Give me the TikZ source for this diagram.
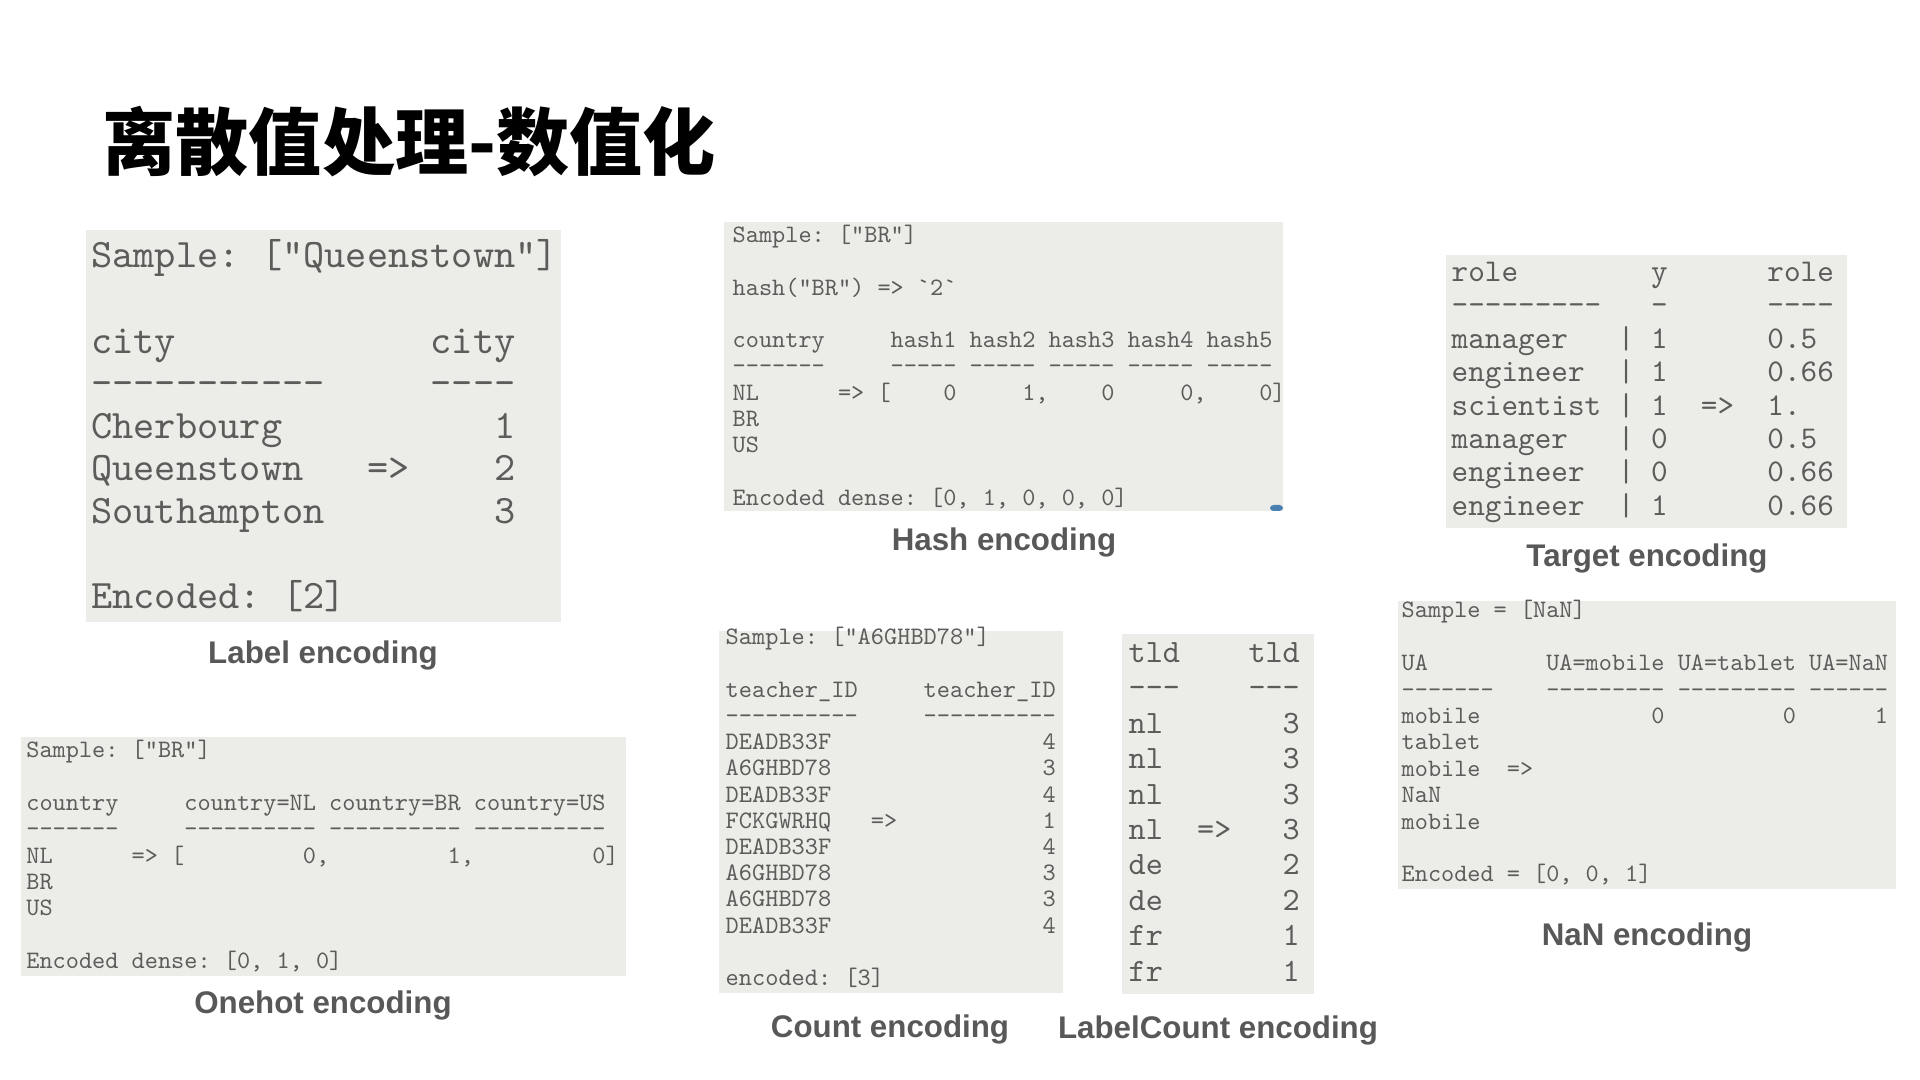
\documentclass[tikz,border=0pt]{standalone}
\usepackage{fontspec}
\newfontfamily\cjkfont{Noto Sans CJK SC}
\newfontfamily\capfont{Liberation Sans}
\newfontfamily\codefont{lmmono10-regular.otf}

\definecolor{panelgray}{RGB}{236,236,233}
\definecolor{codegray}{RGB}{92,92,90}
\definecolor{capgray}{RGB}{88,88,88}
\definecolor{markblue}{RGB}{74,128,176}

% n blank columns of the current monospace font
\newcommand\colgap[1]{\hspace*{#1\fontcharwd\font`0}}

\begin{document}
\begin{tikzpicture}[
  x=0.01cm, y=-0.01cm,
  panel/.style    = {fill=panelgray},
  codeline/.style = {anchor=base west, inner sep=0pt, text=codegray},
  caption/.style  = {anchor=base, inner sep=0pt, text=capgray,
                     font=\capfont\bfseries\fontsize{8.9}{10}\selectfont},
]

%% ── Canvas: 1 unit = 1 px of a 1920 x 1080 slide ─────────────────────────────
\useasboundingbox (0,0) rectangle (1920,1080);
\fill[white] (0,0) rectangle (1920,1080);

%% ── Title ────────────────────────────────────────────────────────────────────
\node[anchor=base west, inner sep=0pt,
      font=\cjkfont\bfseries\fontsize{20.8}{24}\selectfont]
  (title) at (102,170) {离散值处理-数值化};

%% ── Label encoding ───────────────────────────────────────────────────────────
\def\xL{90.6}  \def\yL{268}  \def\dL{42.6}
\fill[panel] (86,230) rectangle (561,622);
\foreach \r/\ln in {0/{Sample:~["Queenstown"]},
                    2/{city\colgap{12}city},
                    3/{-----------\colgap{5}----},
                    4/{Cherbourg\colgap{10}1},
                    5/{Queenstown\colgap{3}=>\colgap{4}2},
                    6/{Southampton\colgap{8}3},
                    8/{Encoded:~[2]}}{
  \node[codeline, font=\codefont\fontsize{11.49}{12}\selectfont]
    (lab-\r) at (\xL, \yL+\r*\dL) {\ln};
}
\node[caption] (lab-cap) at (323,664) {Label encoding};

%% ── Hash encoding ────────────────────────────────────────────────────────────
\def\xH{732}  \def\yH{242.5}  \def\dH{26.3}
\fill[panel] (724,222) rectangle (1283,511);
\fill[markblue, rounded corners=1pt] (1270,505) rectangle (1283,511);
\foreach \r/\ln in {0/{Sample:~["BR"]},
                    2/{hash("BR")~=>~`2`},
                    4/{country\colgap{5}hash1~hash2~hash3~hash4~hash5},
                    5/{-------\colgap{5}-----~-----~-----~-----~-----},
                    6/{NL\colgap{6}=>~[\colgap{4}0\colgap{5}1,\colgap{4}0\colgap{5}0,\colgap{4}0]},
                    7/{BR},
                    8/{US},
                    10/{Encoded~dense:~[0,~1,~0,~0,~0]}}{
  \node[codeline, font=\codefont\fontsize{7.13}{8}\selectfont]
    (hash-\r) at (\xH, \yH+\r*\dH) {\ln};
}
\node[caption] (hash-cap) at (1004,551) {Hash encoding};

%% ── Target encoding ──────────────────────────────────────────────────────────
\def\xT{1451}  \def\yT{281.6}  \def\dT{33.4}
\fill[panel] (1446,255) rectangle (1847,528);
\foreach \r/\ln in {0/{role\colgap{8}y\colgap{6}role},
                    1/{---------\colgap{3}-\colgap{6}----},
                    2/{manager\colgap{3}|~1\colgap{6}0.5},
                    3/{engineer\colgap{2}|~1\colgap{6}0.66},
                    4/{scientist~|~1\colgap{2}=>\colgap{2}1.},
                    5/{manager\colgap{3}|~0\colgap{6}0.5},
                    6/{engineer\colgap{2}|~0\colgap{6}0.66},
                    7/{engineer\colgap{2}|~1\colgap{6}0.66}}{
  \node[codeline, font=\codefont\fontsize{9.0}{10}\selectfont]
    (tgt-\r) at (\xT, \yT+\r*\dT) {\ln};
}
\node[caption] (tgt-cap) at (1647,567) {Target encoding};

%% ── Onehot encoding ──────────────────────────────────────────────────────────
\def\xO{25.7}  \def\yO{758}  \def\dO{26.3}
\fill[panel] (21,737) rectangle (626,976);
\foreach \r/\ln in {0/{Sample:~["BR"]},
                    2/{country\colgap{5}country=NL~country=BR~country=US},
                    3/{-------\colgap{5}----------~----------~----------},
                    4/{NL\colgap{6}=>~[\colgap{9}0,\colgap{9}1,\colgap{9}0]},
                    5/{BR},
                    6/{US},
                    8/{Encoded~dense:~[0,~1,~0]}}{
  \node[codeline, font=\codefont\fontsize{7.13}{8}\selectfont]
    (hot-\r) at (\xO, \yO+\r*\dO) {\ln};
}
\node[caption] (hot-cap) at (323,1014) {Onehot encoding};

%% ── Count encoding ───────────────────────────────────────────────────────────
\def\xC{725}  \def\yC{645}  \def\dC{26.2}
\fill[panel] (719,631) rectangle (1063,993);
\foreach \r/\ln in {0/{Sample:~["A6GHBD78"]},
                    2/{teacher\_ID\colgap{5}teacher\_ID},
                    3/{----------\colgap{5}----------},
                    4/{DEADB33F\colgap{16}4},
                    5/{A6GHBD78\colgap{16}3},
                    6/{DEADB33F\colgap{16}4},
                    7/{FCKGWRHQ\colgap{3}=>\colgap{11}1},
                    8/{DEADB33F\colgap{16}4},
                    9/{A6GHBD78\colgap{16}3},
                    10/{A6GHBD78\colgap{16}3},
                    11/{DEADB33F\colgap{16}4},
                    13/{encoded:~[3]}}{
  \node[codeline, font=\codefont\fontsize{7.15}{8}\selectfont]
    (cnt-\r) at (\xC, \yC+\r*\dC) {\ln};
}
\node[caption] (cnt-cap) at (890,1038) {Count encoding};

%% ── LabelCount encoding ──────────────────────────────────────────────────────
\def\xLC{1128}  \def\yLC{662.5}  \def\dLC{35.4}
\fill[panel] (1122,634) rectangle (1314,994);
\foreach \r/\ln in {0/{tld\colgap{4}tld},
                    1/{---\colgap{4}---},
                    2/{nl\colgap{7}3},
                    3/{nl\colgap{7}3},
                    4/{nl\colgap{7}3},
                    5/{nl\colgap{2}=>\colgap{3}3},
                    6/{de\colgap{7}2},
                    7/{de\colgap{7}2},
                    8/{fr\colgap{7}1},
                    9/{fr\colgap{7}1}}{
  \node[codeline, font=\codefont\fontsize{9.27}{10}\selectfont]
    (lc-\r) at (\xLC, \yLC+\r*\dLC) {\ln};
}
\node[caption] (lc-cap) at (1218,1039) {LabelCount encoding};

%% ── NaN encoding ─────────────────────────────────────────────────────────────
\def\xN{1401}  \def\yN{618}  \def\dN{26.4}
\fill[panel] (1398,601) rectangle (1896,889);
\foreach \r/\ln in {0/{Sample~=~[NaN]},
                    2/{UA\colgap{9}UA=mobile~UA=tablet~UA=NaN},
                    3/{-------\colgap{4}---------~---------~------},
                    4/{mobile\colgap{13}0\colgap{9}0\colgap{6}1},
                    5/{tablet},
                    6/{mobile\colgap{2}=>},
                    7/{NaN},
                    8/{mobile},
                    10/{Encoded~=~[0,~0,~1]}}{
  \node[codeline, font=\codefont\fontsize{7.12}{8}\selectfont]
    (nan-\r) at (\xN, \yN+\r*\dN) {\ln};
}
\node[caption] (nan-cap) at (1647,946) {NaN encoding};

\end{tikzpicture}
\end{document}
